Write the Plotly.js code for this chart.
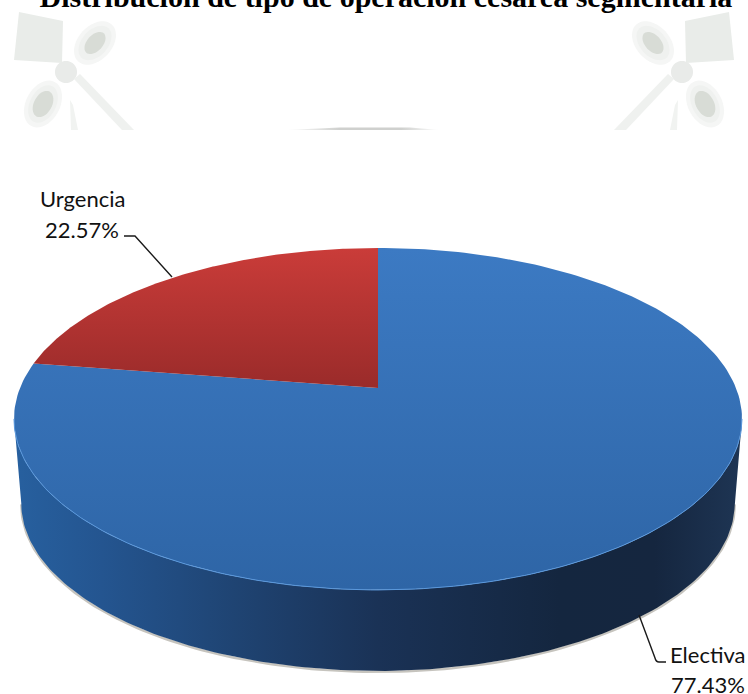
<!DOCTYPE html>
<html><head><meta charset="utf-8">
<script src="https://cdn.plot.ly/plotly-3.0.1.min.js"></script>
<style>html,body{margin:0;padding:0;background:#fff;overflow:hidden}#c{width:748px;height:694px}</style>
</head><body><div id="c"></div>
<script>
const chartTitle = 'Distribución de tipo de operación cesárea segmentaria';
const categories = ['Electiva', 'Urgencia'];
const percentages = [77.43, 22.57];

// disc projection (pixel-scaled axes)
const CX = 378, CY = 388, R = 358, A = 165.4, K = 0.181, DEPTH = 85, LOW = 0.98;
function proj(phi, s, dy) {
  const X = Math.sin(phi), Z = Math.cos(phi), d = 1 + K * Z;
  return [CX + s * R * X / d, CY + dy - s * A * Z / d];
}
function arc(a, b, s, dy, n) {
  const xs = [], ys = [];
  for (let i = 0; i <= n; i++) {
    const p = proj(a + (b - a) * i / n, s, dy);
    xs.push(p[0]); ys.push(p[1]);
  }
  return [xs, ys];
}
const TAU = 2 * Math.PI;
const frontA = Math.acos(-K), frontB = TAU - frontA;
const base = {type:'scatter', mode:'lines', hoverinfo:'skip', showlegend:false};

// watermark band
const traces = [];
traces.push(Object.assign({}, base, {
  x:[285,340,410,440,285], y:[130,127.5,127.5,130,130], fill:'toself', line:{width:0},
  fillgradient:{type:'horizontal', colorscale:[[0,'#ffffff'],[0.35,'#cfd0ce'],[0.75,'#cfd0ce'],[1,'#ffffff']]}
}));

// drop shadow under the rim
const shadow = arc(frontA, frontB, LOW, DEPTH + 1, 160);
traces.push(Object.assign({}, base, {x:shadow[0], y:shadow[1], line:{color:'#c6c4be', width:2.5}}));

// side wall
const wallTop = arc(frontB, frontA, 1, 0, 160);
const wallLow = arc(frontA, frontB, LOW, DEPTH, 160);
traces.push(Object.assign({}, base, {
  x:wallTop[0].concat(wallLow[0]), y:wallTop[1].concat(wallLow[1]), fill:'toself', line:{width:0},
  fillgradient:{type:'horizontal', colorscale:[
    [0,'#27609f'],[0.12,'#245590'],[0.3,'#1f4473'],[0.5,'#1a3256'],[0.75,'#14263f'],[0.88,'#15263f'],[1,'#1e3554']]}
}));

// slices (the y axis is reversed, so the gradient runs bottom colour first)
const sliceFill = [
  {type:'vertical', colorscale:[[0,'#2e65a6'],[1,'#3c7ac3']]},
  {type:'vertical', colorscale:[[0,'#9a2b2a'],[1,'#ca3c39']]}
];
let start = 0;
const total = percentages.reduce((a, b) => a + b, 0);
percentages.forEach((v, i) => {
  const end = start + TAU * v / total;
  const a = arc(start, end, 1, 0, 220);
  traces.push(Object.assign({}, base, {
    x:[CX].concat(a[0], [CX]), y:[CY].concat(a[1], [CY]), fill:'toself', line:{width:0},
    fillgradient: sliceFill[i], name:categories[i]
  }));
  start = end;
});

// light rim on the front of the top face
const rim = arc(frontA, frontB, 1, 0, 160);
traces.push(Object.assign({}, base, {x:rim[0], y:rim[1], line:{color:'#5a98dc', width:1}}));

// watermark shapes
function ell(cx, cy, rx, ry, deg) {
  const t = deg * Math.PI / 180; let s = '';
  for (let i = 0; i < 40; i++) {
    const u = i / 40 * TAU, ex = rx * Math.cos(u), ey = ry * Math.sin(u);
    s += (i ? 'L' : 'M') + (cx + ex * Math.cos(t) - ey * Math.sin(t)).toFixed(1) + ',' + (cy + ex * Math.sin(t) + ey * Math.cos(t)).toFixed(1);
  }
  return s + 'Z';
}
function wm(path, col) {
  return {type:'path', xref:'x', yref:'y', path:path, fillcolor:col, line:{width:0}, layer:'below'};
}
function mark(m) {
  const f = x => (m ? 748 - x : x);
  const poly = pts => pts.map((p, i) => (i ? 'L' : 'M') + f(p[0]) + ',' + p[1]).join('') + 'Z';
  const e = (cx, cy, rx, ry, deg) => ell(f(cx), cy, rx, ry, m ? -deg : deg);
  return [
    wm(poly([[19,12],[63,21],[62,63],[14,60]]), '#e9ece9'),
    wm(e(95,43,25,17,-48), '#f5f6f5'),
    wm(e(95,43,20,13,-48), '#eff1ef'),
    wm(e(95,43,13,8,-48), '#d8dcd6'),
    wm(e(43,104,25,17,-62), '#f5f6f5'),
    wm(e(43,104,20,13,-62), '#eff1ef'),
    wm(e(43,104,14,9,-62), '#d8dcd6'),
    wm(e(66,72,11,11,0), '#e9ebe9'),
    wm(poly([[74,79],[80,74],[134,130],[122,130]]), '#eff1ef'),
    wm(poly([[70,100],[73,105],[78,130],[71,130]]), '#f1f3f1')
  ];
}
function lead(path) {
  return {type:'path', xref:'x', yref:'y', path:path, line:{color:'#1a1a1a', width:1.4}};
}
const shapes = mark(false).concat(mark(true), [
  lead('M124,236L135,236L172,277'),
  lead('M639,615L655,658Q656,662 659,662L666,662')
]);

const lblFont = {family:'Lato, "Open Sans", sans-serif', size:22, color:'#111'};
function note(text, x, y) {
  return {xref:'x', yref:'y', x:x, y:y, text:text, showarrow:false, xanchor:'center', yanchor:'middle', font:lblFont};
}
const fmt = v => v.toFixed(2) + '%';
const annotations = [
  note(categories[1], 82, 198), note(fmt(percentages[1]), 82, 229),
  note(categories[0], 708, 654), note(fmt(percentages[0]), 708, 684)
];

Plotly.newPlot('c', traces, {
  width:748, height:694, margin:{l:0, r:0, t:0, b:0, pad:0},
  paper_bgcolor:'#fff', plot_bgcolor:'rgba(0,0,0,0)', showlegend:false,
  title:{text:'<b>' + chartTitle + '</b>', x:0.516, xanchor:'center', xref:'paper', y:0.9895, yanchor:'bottom', automargin:false,
    font:{family:'"Liberation Serif", serif', size:30, color:'#000'}, pad:{t:0, b:0}},
  xaxis:{range:[0,748], visible:false, fixedrange:true},
  yaxis:{range:[694,0], visible:false, fixedrange:true},
  shapes:shapes, annotations:annotations
}, {displayModeBar:false, staticPlot:true});
</script></body></html>
